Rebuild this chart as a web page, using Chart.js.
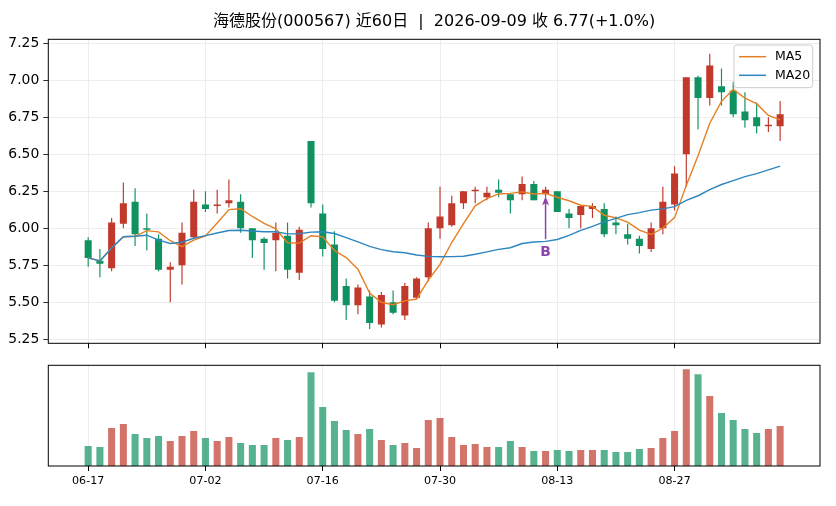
<!DOCTYPE html>
<html>
<head>
<meta charset="utf-8">
<script src="https://cdn.jsdelivr.net/npm/chart.js@4.4.1/dist/chart.umd.min.js"></script>
<style>
  html, body { margin: 0; padding: 0; background: #fff; }
  #wrap { position: relative; width: 836px; height: 506px; }
  #priceBox { position: absolute; left: 0; top: 0; width: 836px; height: 356px; }
  #volBox { position: absolute; left: 0; top: 360px; width: 836px; height: 146px; }
</style>
</head>
<body>
<div id="wrap">
  <div id="priceBox"><canvas id="priceChart"></canvas></div>
  <div id="volBox"><canvas id="volChart"></canvas></div>
</div>
<script>
// trading days shown (last 60 sessions)
const dates = [
  '2026-06-17', '2026-06-18', '2026-06-22', '2026-06-23', '2026-06-24', '2026-06-25', '2026-06-26', '2026-06-29', '2026-06-30', '2026-07-01',
  '2026-07-02', '2026-07-03', '2026-07-06', '2026-07-07', '2026-07-08', '2026-07-09', '2026-07-10', '2026-07-13', '2026-07-14', '2026-07-15',
  '2026-07-16', '2026-07-17', '2026-07-20', '2026-07-21', '2026-07-22', '2026-07-23', '2026-07-24', '2026-07-27', '2026-07-28', '2026-07-29',
  '2026-07-30', '2026-07-31', '2026-08-03', '2026-08-04', '2026-08-05', '2026-08-06', '2026-08-07', '2026-08-10', '2026-08-11', '2026-08-12',
  '2026-08-13', '2026-08-14', '2026-08-17', '2026-08-18', '2026-08-19', '2026-08-20', '2026-08-21', '2026-08-24', '2026-08-25', '2026-08-26',
  '2026-08-27', '2026-08-28', '2026-08-31', '2026-09-01', '2026-09-02', '2026-09-03', '2026-09-04', '2026-09-07', '2026-09-08', '2026-09-09'
];
const opens = [
  5.92, 5.78, 5.73, 6.03, 6.18, 6.00, 5.93, 5.72, 5.75, 5.94,
  6.16, 6.15, 6.17, 6.18, 6.00, 5.93, 5.92, 5.95, 5.70, 6.59,
  6.10, 5.89, 5.61, 5.48, 5.54, 5.35, 5.50, 5.41, 5.53, 5.67,
  6.00, 6.02, 6.17, 6.25, 6.21, 6.26, 6.23, 6.23, 6.30, 6.23,
  6.25, 6.10, 6.09, 6.13, 6.13, 6.04, 5.96, 5.93, 5.86, 6.00,
  6.16, 6.50, 7.02, 6.88, 6.96, 6.93, 6.79, 6.75, 6.69, 6.69
];
const highs = [
  5.94, 5.86, 6.07, 6.31, 6.27, 6.10, 5.96, 5.77, 6.04, 6.26,
  6.25, 6.26, 6.33, 6.23, 6.00, 5.94, 6.04, 6.04, 6.01, 6.59,
  6.16, 5.98, 5.66, 5.62, 5.58, 5.57, 5.58, 5.63, 5.67, 6.04,
  6.28, 6.22, 6.25, 6.28, 6.28, 6.33, 6.23, 6.35, 6.32, 6.28,
  6.25, 6.13, 6.15, 6.17, 6.17, 6.08, 6.03, 5.95, 6.04, 6.28,
  6.42, 7.02, 7.03, 7.18, 7.08, 6.99, 6.92, 6.85, 6.75, 6.86
];
const lows = [
  5.74, 5.67, 5.71, 6.00, 5.88, 5.85, 5.71, 5.50, 5.62, 5.93,
  6.11, 6.10, 6.14, 5.97, 5.80, 5.72, 5.71, 5.66, 5.65, 6.14,
  5.81, 5.50, 5.38, 5.42, 5.32, 5.33, 5.42, 5.38, 5.52, 5.64,
  5.93, 6.01, 6.13, 6.17, 6.19, 6.21, 6.10, 6.19, 6.19, 6.21,
  6.11, 6.00, 6.00, 6.07, 5.94, 5.96, 5.89, 5.83, 5.84, 5.96,
  6.12, 6.28, 6.67, 6.83, 6.83, 6.75, 6.68, 6.64, 6.65, 6.59
];
const closes = [
  5.80, 5.76, 6.04, 6.17, 5.96, 5.99, 5.72, 5.74, 5.97, 6.18,
  6.13, 6.16, 6.19, 6.00, 5.92, 5.90, 5.97, 5.72, 5.99, 6.17,
  5.86, 5.51, 5.48, 5.60, 5.36, 5.55, 5.43, 5.61, 5.66, 6.00,
  6.08, 6.17, 6.25, 6.26, 6.24, 6.24, 6.19, 6.30, 6.19, 6.26,
  6.11, 6.07, 6.15, 6.15, 5.96, 6.02, 5.93, 5.88, 6.00, 6.18,
  6.37, 7.02, 6.88, 7.10, 6.92, 6.77, 6.73, 6.69, 6.70, 6.77
];
// volume, relative units
const volumes = [
  20, 19, 38, 42, 32, 28, 30, 25, 30, 35,
  28, 25, 29, 23, 21, 21, 28, 26, 29, 94,
  59, 45, 36, 32, 37, 26, 21, 23, 18, 46,
  48, 29, 21, 22, 19, 19, 25, 19, 15, 15,
  16, 15, 16, 16, 16, 14, 14, 17, 18, 28,
  35, 97, 92, 70, 53, 46, 37, 33, 37, 40
];
const priceTicks = [5.25, 5.50, 5.75, 6.00, 6.25, 6.50, 6.75, 7.00, 7.25];
const dateTickIdx = [0, 10, 20, 30, 40, 50];
const signalIdx = [39];
const signalText = ['B'];

const titleText = '海德股份(000567) 近60日\u00a0\u00a0|\u00a0\u00a02026-09-09 收 6.77(+1.0%)';

const UP = '#c0392b';
const DOWN = '#0f925f';
const UP_VOL = 'rgba(192, 57, 43, 0.7)';
const DOWN_VOL = 'rgba(15, 146, 95, 0.7)';
const MA5_COLOR = '#e67e22';
const MA20_COLOR = '#2e86c1';
const SIGNAL_COLOR = '#8e44ad';
const GRID = '#e8e8e8';
const FONT = "'DejaVu Sans', 'Noto Sans CJK SC', sans-serif";

Chart.defaults.font.family = FONT;
Chart.defaults.color = '#000';

function movingAvg(arr, n) {
    return arr.map((v, i) => {
        const win = arr.slice(Math.max(0, i - n + 1), i + 1);
        return win.reduce((a, b) => a + b, 0) / win.length;
    });
}
const ma5 = movingAvg(closes, 5);
const ma20 = movingAvg(closes, 20);

const isUp = i => closes[i] >= opens[i];

// shared x axis setup (index positions, date ticks)
function xAxis(showLabels, height) {
    return {
        type: 'linear',
        min: -3.4,
        max: 62.4,
        offset: false,
        afterBuildTicks: s => { s.ticks = dateTickIdx.map(v => ({ value: v })); },
        afterFit: s => { s.height = height; },
        ticks: {
            display: showLabels,
            autoSkip: false,
            maxRotation: 0,
            padding: 3,
            font: { size: 11.1 },
            callback: v => dates[v] ? dates[v].slice(5) : ''
        },
        grid: { offset: false, color: GRID, lineWidth: 0.8, tickColor: '#000', tickLength: 5, tickWidth: 1 },
        border: { display: false }
    };
}

const framePlugin = {
    id: 'frame',
    afterDatasetsDraw(chart) {
        const { ctx, chartArea: a } = chart;
        ctx.save();
        ctx.strokeStyle = '#000';
        ctx.lineWidth = 1;
        ctx.strokeRect(a.left, a.top, a.right - a.left, a.bottom - a.top);
        ctx.restore();
    }
};

const decorPlugin = {
    id: 'decor',
    afterDraw(chart) {
        const { ctx, chartArea: a, scales } = chart;
        ctx.save();
        // title
        ctx.fillStyle = '#000';
        ctx.font = '16px ' + FONT;
        ctx.textAlign = 'center';
        ctx.textBaseline = 'middle';
        ctx.fillText(titleText, (a.left + a.right) / 2, 21.5);

        // signal arrows
        signalIdx.forEach((idx, k) => {
            const x = scales.x.getPixelForValue(idx);
            const tip = scales.y.getPixelForValue(lows[idx]) - 1;
            const tail = tip + 43;
            ctx.strokeStyle = SIGNAL_COLOR;
            ctx.fillStyle = SIGNAL_COLOR;
            ctx.lineWidth = 1.5;
            ctx.beginPath();
            ctx.moveTo(x, tail);
            ctx.lineTo(x, tip + 6);
            ctx.stroke();
            ctx.beginPath();
            ctx.moveTo(x, tip);
            ctx.lineTo(x - 3.5, tip + 9);
            ctx.lineTo(x, tip + 7);
            ctx.lineTo(x + 3.5, tip + 9);
            ctx.closePath();
            ctx.fill();
            ctx.font = 'bold 13.9px ' + FONT;
            ctx.textAlign = 'center';
            ctx.textBaseline = 'middle';
            ctx.fillText(signalText[k], x, tip + 56);
        });

        // legend box
        const bw = 78.7, bh = 42.7;
        const bx = a.right - 7.3 - bw, by = a.top + 5.7;
        ctx.fillStyle = 'rgba(255,255,255,0.8)';
        ctx.strokeStyle = '#cccccc';
        ctx.lineWidth = 1;
        ctx.beginPath();
        ctx.roundRect(bx, by, bw, bh, 3);
        ctx.fill();
        ctx.stroke();
        const items = [['MA5', MA5_COLOR], ['MA20', MA20_COLOR]];
        ctx.font = '12.5px ' + FONT;
        ctx.textAlign = 'left';
        ctx.textBaseline = 'middle';
        items.forEach(([label, color], k) => {
            const y = by + 11.7 + k * 18.6;
            ctx.strokeStyle = color;
            ctx.lineWidth = 1.5;
            ctx.beginPath();
            ctx.moveTo(bx + 5, y);
            ctx.lineTo(bx + 32, y);
            ctx.stroke();
            ctx.fillStyle = '#000';
            ctx.fillText(label, bx + 41, y);
        });
        ctx.restore();
    }
};

// Price panel
new Chart(document.getElementById('priceChart'), {
    type: 'bar',
    data: {
        datasets: [
            {
                type: 'line', label: 'MA20',
                data: ma20.map((v, i) => ({ x: i, y: v })),
                borderColor: MA20_COLOR, borderWidth: 1.4, pointRadius: 0, order: 0
            },
            {
                type: 'line', label: 'MA5',
                data: ma5.map((v, i) => ({ x: i, y: v })),
                borderColor: MA5_COLOR, borderWidth: 1.4, pointRadius: 0, order: 1
            },
            {
                label: 'body',
                data: dates.map((d, i) => ({ x: i, y: [Math.min(opens[i], closes[i]), Math.max(opens[i], closes[i])] })),
                backgroundColor: c => isUp(c.dataIndex) ? UP : DOWN,
                barPercentage: 0.6, categoryPercentage: 1, grouped: false, minBarLength: 1.5, order: 2
            },
            {
                label: 'wick',
                data: dates.map((d, i) => ({ x: i, y: [lows[i], highs[i]] })),
                backgroundColor: c => isUp(c.dataIndex) ? UP : DOWN,
                barPercentage: 0.1, categoryPercentage: 1, maxBarThickness: 1.3, grouped: false, order: 3
            }
        ]
    },
    options: {
        responsive: true,
        maintainAspectRatio: false,
        animation: false,
        layout: { padding: { top: 39.3, right: 16, bottom: 4.7, left: 0 } },
        plugins: { legend: { display: false }, tooltip: { enabled: false }, title: { display: false } },
        scales: {
            x: xAxis(false, 8),
            y: {
                type: 'linear',
                min: 5.223,
                max: 7.277,
                afterBuildTicks: s => { s.ticks = priceTicks.map(v => ({ value: v })); },
                afterFit: s => { s.width = 48.3; },
                ticks: { callback: v => v.toFixed(2), font: { size: 13.9 }, padding: 4 },
                grid: { color: GRID, lineWidth: 0.8, tickColor: '#000', tickLength: 5 },
                border: { display: false }
            }
        }
    },
    plugins: [framePlugin, decorPlugin]
});

// Volume panel
new Chart(document.getElementById('volChart'), {
    type: 'bar',
    data: {
        datasets: [{
            label: 'volume',
            data: volumes.map((v, i) => ({ x: i, y: v })),
            backgroundColor: c => isUp(c.dataIndex) ? UP_VOL : DOWN_VOL,
            barPercentage: 0.6, categoryPercentage: 1, grouped: false
        }]
    },
    options: {
        responsive: true,
        maintainAspectRatio: false,
        animation: false,
        layout: { padding: { top: 5.3, right: 16, bottom: 0, left: 0 } },
        plugins: { legend: { display: false }, tooltip: { enabled: false } },
        scales: {
            x: xAxis(true, 40),
            y: {
                type: 'linear',
                min: 0,
                max: Math.max(...volumes) * 1.04,
                afterFit: s => { s.width = 48.3; },
                ticks: { display: false },
                grid: { display: false },
                border: { display: false }
            }
        }
    },
    plugins: [framePlugin]
});
</script>
</body>
</html>
